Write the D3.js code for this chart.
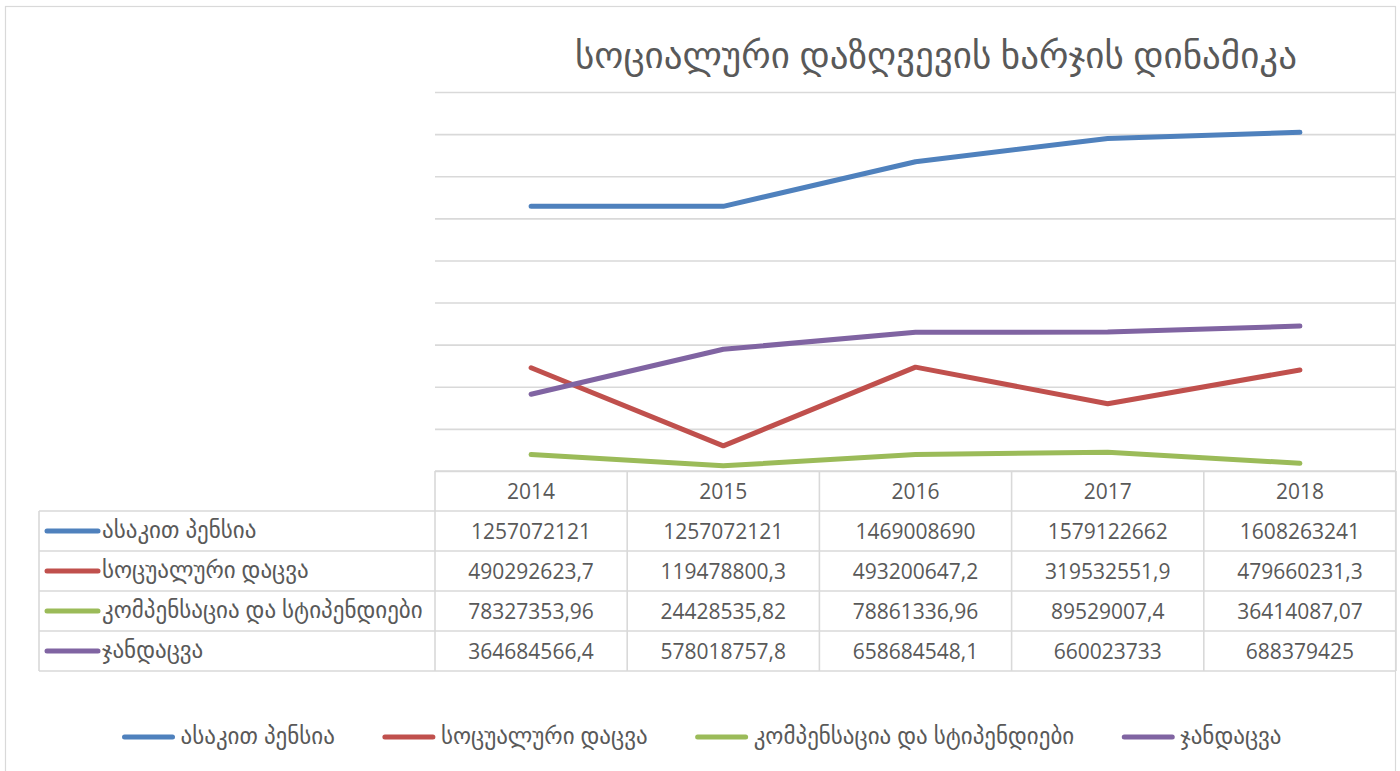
<!DOCTYPE html>
<html>
<head>
<meta charset="utf-8">
<script src="https://cdn.jsdelivr.net/npm/d3@7"></script>
<style>
  body { margin: 0; background: #fff; }
  text { font-family: "Open Sans", "DejaVu Sans", sans-serif; fill: #595959; }
</style>
</head>
<body>
<div id="graph-area"></div>
<script>
const TITLE = 'სოციალური დაზღვევის ხარჯის დინამიკა'
const YEARS = ['2014', '2015', '2016', '2017', '2018']
const SERIES_NAMES = ['ასაკით პენსია', 'სოცუალური დაცვა', 'კომპენსაცია და სტიპენდიები', 'ჯანდაცვა']
const SERIES_COLORS = ['#4f81bd', '#c0504d', '#9bbb59', '#8064a2']
const PENSION = [1257072121, 1257072121, 1469008690, 1579122662, 1608263241]
const SOCIAL = [490292623.7, 119478800.3, 493200647.2, 319532551.9, 479660231.3]
const COMPENSATION = [78327353.96, 24428535.82, 78861336.96, 89529007.4, 36414087.07]
const HEALTH = [364684566.4, 578018757.8, 658684548.1, 660023733, 688379425]
// labels as they are printed in the table (comma decimals)
const PENSION_LABELS = ['1257072121', '1257072121', '1469008690', '1579122662', '1608263241']
const SOCIAL_LABELS = ['490292623,7', '119478800,3', '493200647,2', '319532551,9', '479660231,3']
const COMPENSATION_LABELS = ['78327353,96', '24428535,82', '78861336,96', '89529007,4', '36414087,07']
const HEALTH_LABELS = ['364684566,4', '578018757,8', '658684548,1', '660023733', '688379425']
const Y_DOMAIN = [0, 1800000000]
const Y_TICKS = d3.range(0, 1800000001, 200000000)

const seriesValues = [PENSION, SOCIAL, COMPENSATION, HEALTH]
const seriesLabels = [PENSION_LABELS, SOCIAL_LABELS, COMPENSATION_LABELS, HEALTH_LABELS]

const W = 1400, H = 771
const plot = { left: 435, right: 1396, top: 92, bottom: 471 }
const rowH = 40
const labelLeft = 39
const numSize = '21px'
const geoSize = '23px'

const svg = d3.select('#graph-area').append('svg')
  .attr('width', W).attr('height', H)

// chart border
svg.append('rect')
  .attr('x', 5.5).attr('y', 6.5).attr('width', 1390).attr('height', 780)
  .attr('fill', 'none').attr('stroke', '#d9d9d9').attr('stroke-width', 1.2)

// title
svg.append('text')
  .attr('x', 936).attr('y', 68)
  .attr('text-anchor', 'middle')
  .style('font-size', '37px')
  .text(TITLE)

const xScale = d3.scaleBand().domain(YEARS).range([plot.left, plot.right])
const yScale = d3.scaleLinear().domain(Y_DOMAIN).range([plot.bottom, plot.top])

// gridlines
svg.append('g')
  .attr('transform', 'translate(' + plot.left + ',0)')
  .call(d3.axisLeft(yScale).tickValues(Y_TICKS).tickSize(-(plot.right - plot.left)).tickFormat(''))
  .call(g => g.select('.domain').remove())
  .call(g => g.selectAll('line').attr('stroke', '#d9d9d9').attr('stroke-width', 1.6))

// lines
const line = d3.line()
  .x((d, i) => xScale(YEARS[i]) + xScale.bandwidth() / 2)
  .y(d => yScale(d))

svg.selectAll('.series')
  .data(seriesValues)
  .enter()
  .append('path')
  .classed('series', true)
  .attr('d', d => line(d))
  .attr('fill', 'none')
  .attr('stroke', (d, i) => SERIES_COLORS[i])
  .attr('stroke-width', 5)
  .attr('stroke-linecap', 'round')
  .attr('stroke-linejoin', 'round')

// data table
const table = svg.append('g')
const gridColor = '#d9d9d9'
const tableBottom = plot.bottom + rowH * (SERIES_NAMES.length + 1)

// horizontal rules
table.append('line')
  .attr('x1', plot.left).attr('x2', plot.right)
  .attr('y1', plot.bottom).attr('y2', plot.bottom)
  .attr('stroke', gridColor).attr('stroke-width', 1.6)
for (let r = 1; r <= SERIES_NAMES.length + 1; r++) {
  const y = plot.bottom + r * rowH
  table.append('line')
    .attr('x1', labelLeft).attr('x2', plot.right)
    .attr('y1', y).attr('y2', y)
    .attr('stroke', gridColor).attr('stroke-width', 1.6)
}
// vertical rules
table.append('line')
  .attr('x1', labelLeft).attr('x2', labelLeft)
  .attr('y1', plot.bottom + rowH).attr('y2', tableBottom)
  .attr('stroke', gridColor).attr('stroke-width', 1.6)
YEARS.forEach(yr => {
  const x = xScale(yr)
  table.append('line')
    .attr('x1', x).attr('x2', x)
    .attr('y1', plot.bottom).attr('y2', tableBottom)
    .attr('stroke', gridColor).attr('stroke-width', 1.6)
})
table.append('line')
  .attr('x1', plot.right).attr('x2', plot.right)
  .attr('y1', plot.bottom).attr('y2', tableBottom)
  .attr('stroke', gridColor).attr('stroke-width', 1.6)

// header
table.selectAll('.year')
  .data(YEARS)
  .enter()
  .append('text')
  .attr('x', d => xScale(d) + xScale.bandwidth() / 2)
  .attr('y', plot.bottom + rowH / 2 + 8)
  .attr('text-anchor', 'middle')
  .style('font-size', numSize)
  .text(d => d)

// rows
SERIES_NAMES.forEach((name, i) => {
  const cy = plot.bottom + rowH * (i + 1) + rowH / 2
  table.append('line')
    .attr('x1', 47).attr('x2', 98)
    .attr('y1', cy).attr('y2', cy)
    .attr('stroke', SERIES_COLORS[i]).attr('stroke-width', 5)
    .attr('stroke-linecap', 'round')
  table.append('text')
    .attr('x', 102).attr('y', cy + 7)
    .style('font-size', geoSize)
    .text(name)
  table.selectAll('.v' + i)
    .data(seriesLabels[i])
    .enter()
    .append('text')
    .attr('x', (d, j) => xScale(YEARS[j]) + xScale.bandwidth() / 2)
    .attr('y', cy + 8)
    .attr('text-anchor', 'middle')
    .style('font-size', numSize)
    .text(d => d)
})

// legend
const legend = svg.append('g')
const items = legend.selectAll('.item')
  .data(SERIES_NAMES)
  .enter()
  .append('g')
  .classed('item', true)
items.append('line')
  .attr('x1', 0).attr('x2', 48)
  .attr('y1', 0).attr('y2', 0)
  .attr('stroke', (d, i) => SERIES_COLORS[i]).attr('stroke-width', 5)
  .attr('stroke-linecap', 'round')
items.append('text')
  .attr('x', 56).attr('y', 7)
  .style('font-size', geoSize)
  .text(d => d)
const gap = 50
let offset = 0
const widths = []
items.each(function () {
  const w = 56 + d3.select(this).select('text').node().getComputedTextLength()
  widths.push(w)
})
const totalW = d3.sum(widths) + gap * (widths.length - 1)
offset = 703 - totalW / 2
items.attr('transform', (d, i) => {
  const x = offset
  offset += widths[i] + gap
  return 'translate(' + x + ',737)'
})
</script>
</body>
</html>
